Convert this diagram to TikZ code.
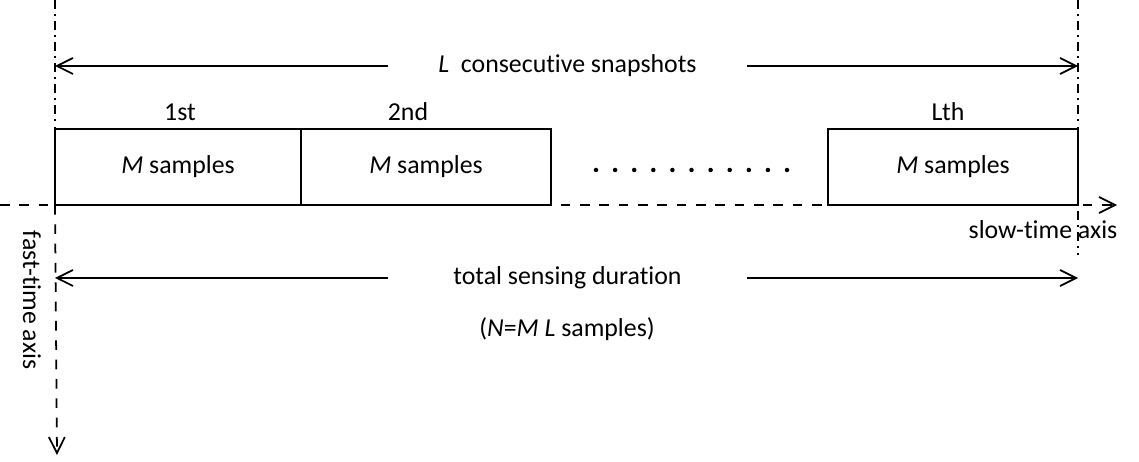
\documentclass[tikz,border=0pt]{standalone}
\usepackage{fontspec}
\setmainfont{Carlito}[Ligatures=NoCommon]
\usetikzlibrary{arrows.meta}
\usetikzlibrary{positioning}

\tikzset{
    barb/.style={-{Straight Barb[length=3.2mm,width=3.2mm]}},
    bound/.style={line width=1pt, dash pattern=on 5pt off 3pt on 1pt off 3pt},
    axisline/.style={line width=1pt, barb, dash pattern=on 5.5pt off 5.5pt},
    span/.style={line width=1pt, barb},
    snapbox/.style={draw, line width=1pt, minimum height=1.52cm, outer sep=0pt, inner sep=0pt},
    spanlabel/.style={minimum width=7.18cm, inner sep=0pt}
}

\begin{document}
\begin{tikzpicture}[font=\fontsize{14.7pt}{17pt}\selectfont]
        \useasboundingbox (0,0) rectangle (22.78,9.24);

        % slow-time and fast-time axes
        \coordinate (origin) at (1.1,5.14);
        \coordinate (slowstart) at (0,5.14);
        \coordinate (slowend) at (22.34,5.14);
        \coordinate (fastend) at (1.14,0.14);
        \draw[axisline] (slowstart) -- (slowend);
        \draw[axisline] (origin) -- (fastend);
        \node[rotate=-90] (fastlabel) at (0.64,3.24) {fast-time axis};
        \node (slowlabel) at (20.86,4.64) {slow-time axis};

        % snapshot boundaries
        \coordinate (lefttop) at (1.1,9.24);
        \coordinate (righttop) at (21.56,9.24);
        \coordinate (rightbot) at (21.56,4.14);
        \draw[bound] (lefttop) -- (origin);
        \draw[bound] (righttop) -- (rightbot);

        % the snapshots
        \node[snapbox, minimum width=4.92cm, anchor=south west] (box1) at (1.1,5.14) {\textit{M} samples};
        \node[snapbox, minimum width=5.0cm, right=0pt of box1] (box2) {\textit{M} samples};
        \node[snapbox, minimum width=5.0cm, anchor=south east] (box3) at (21.56,5.14) {\textit{M} samples};

        \node (lab1) at (3.6,7.0) {1st};
        \node (lab2) at (8.16,7.0) {2nd};
        \node (lab3) at (18.96,7.0) {Lth};

        \foreach \i in {0,...,10} {
            \fill (11.92+0.382*\i,5.84) circle (0.045cm);
        }

        % L consecutive snapshots
        \coordinate (snapL) at (1.1,7.92);
        \coordinate (snapR) at (21.56,7.92);
        \node[spanlabel] (snap) at (11.35,7.92) {\textit{L}\ \ consecutive snapshots};
        \draw[span] (snap.west) -- (snapL);
        \draw[span] (snap.east) -- (snapR);

        % total duration
        \coordinate (durL) at (1.1,3.68);
        \coordinate (durR) at (21.56,3.68);
        \node[spanlabel] (dur) at (11.35,3.68) {total sensing duration};
        \draw[span] (dur.west) -- (durL);
        \draw[span] (dur.east) -- (durR);
        \node (total) at (11.34,2.66) {(\textit{N}=\textit{M L} samples)};

\end{tikzpicture}
\end{document}
